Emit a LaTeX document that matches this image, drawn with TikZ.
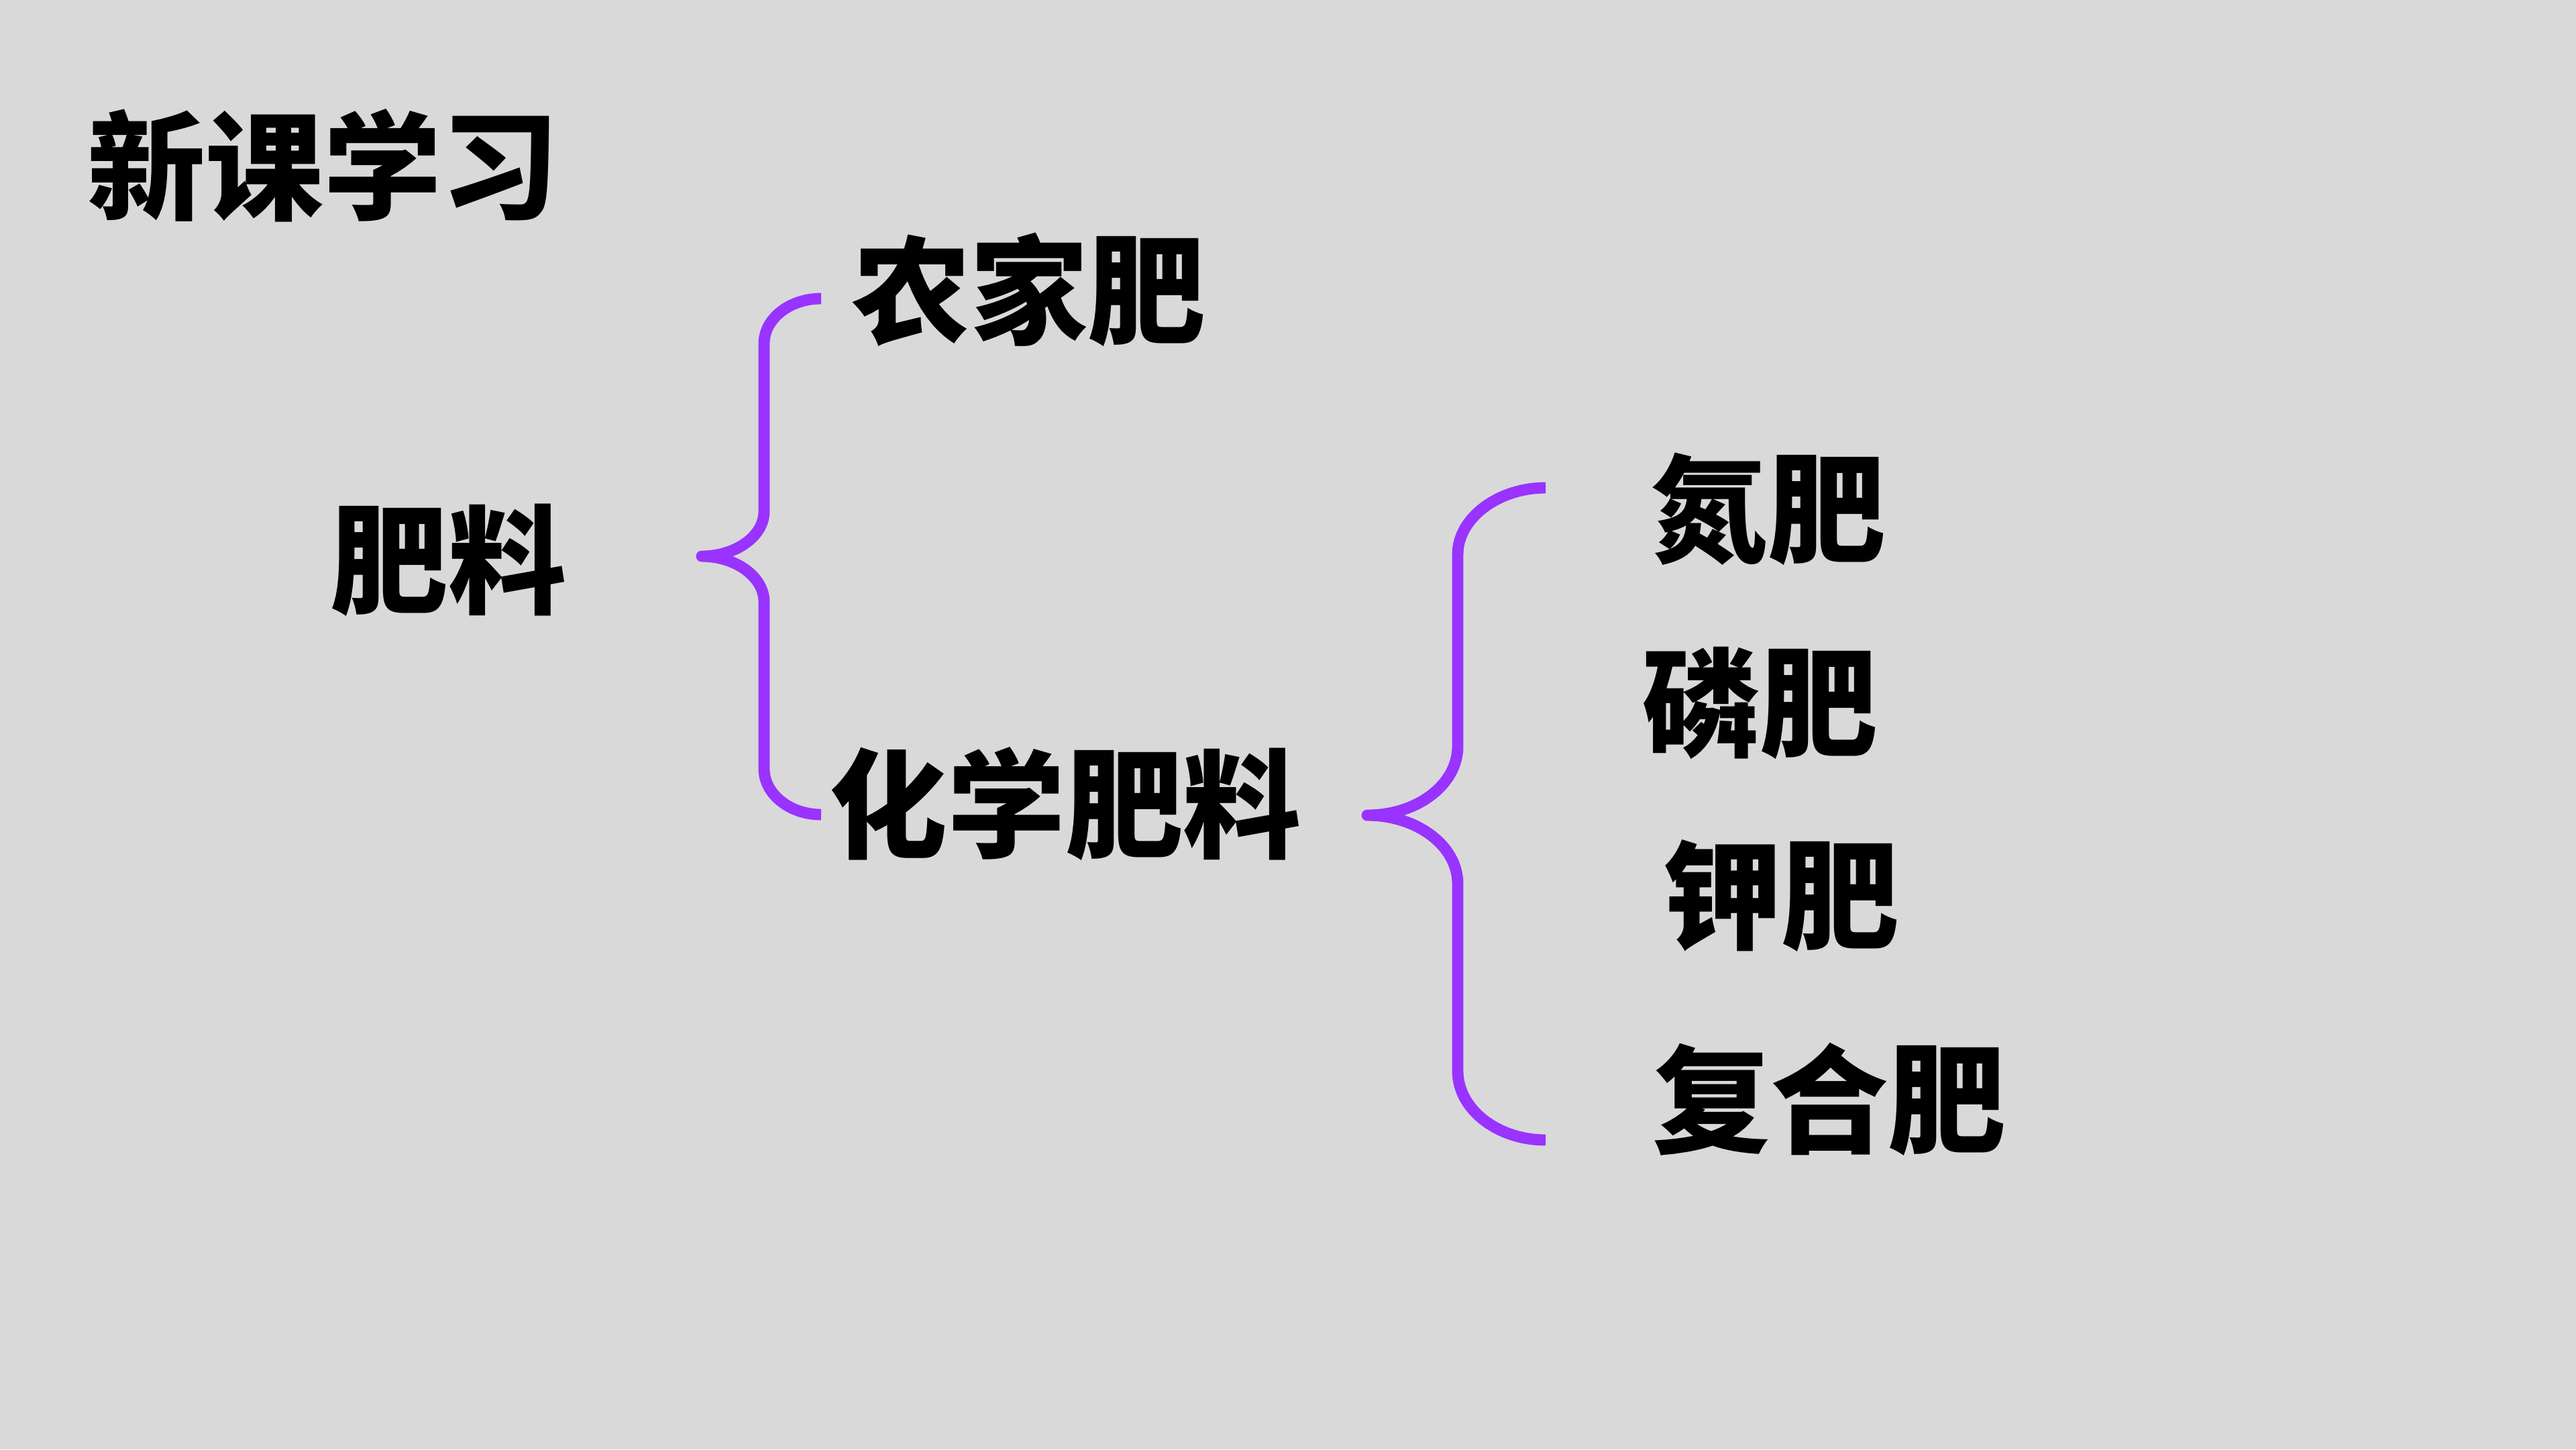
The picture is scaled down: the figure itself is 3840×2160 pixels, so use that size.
\documentclass[tikz,border=0pt]{standalone}
\usepackage{fontspec}
\newfontfamily\fzcjk{Noto Sans CJK SC Black}
\usetikzlibrary{positioning}
\definecolor{fzink}{HTML}{000000}
\definecolor{fzpurple}{HTML}{9933FF}
\definecolor{fzbg}{HTML}{D9D9D9}
\tikzset{
  fz text/.style={font=\fzcjk\fontsize{50pt}{60pt}\selectfont, text=fzink, inner sep=0pt},
  fz brace/.style={draw=fzpurple, line width=4.8pt, line cap=butt, line join=round}
}

\begin{document}
\begin{tikzpicture}[fz text, x=0.01cm, y=-0.01cm]
  \fill[fzbg] (0,0) rectangle (3840,2160);
  \useasboundingbox (0,0) rectangle (3840,2160);
  \node (title) at (482,247) {新课学习};
  \node (fl) at (668,835) {肥料};
  \node (nj) at (1534,432) {农家肥};
  \node (hx) at (1588,1198) {化学肥料};
  \foreach \n/\x/\y/\t in {dan/2635/759/氮肥, lin/2623/1048/磷肥,
      jia/2655/1335/钾肥, fh/2727/1638/复合肥} {
    \node (\n) at (\x,\y) {\t};
  }
  % brace ends
  \coordinate (lb tip) at (1046,829);
  \coordinate (lb top) at (1224,445);
  \coordinate (lb bot) at (1224,1214);
  \coordinate (rb tip) at (2038,1215);
  \coordinate (rb top) at (2304,727);
  \coordinate (rb bot) at (2304,1699);
  \draw[fz brace] (lb top) .. controls (1177,445) and (1139,475) .. (1139,512)
    -- (1139,762) .. controls (1139,799) and (1097,829) .. (lb tip)
    .. controls (1097,829) and (1139,860) .. (1139,897)
    -- (1139,1146) .. controls (1139,1183) and (1177,1214) .. (lb bot);
  \draw[fz brace] (rb top) .. controls (2232,727) and (2173,773) .. (2173,826)
    -- (2173,1112) .. controls (2173,1169) and (2113,1215) .. (rb tip)
    .. controls (2113,1215) and (2173,1261) .. (2173,1317)
    -- (2173,1596) .. controls (2173,1653) and (2232,1699) .. (rb bot);
\end{tikzpicture}
\end{document}
